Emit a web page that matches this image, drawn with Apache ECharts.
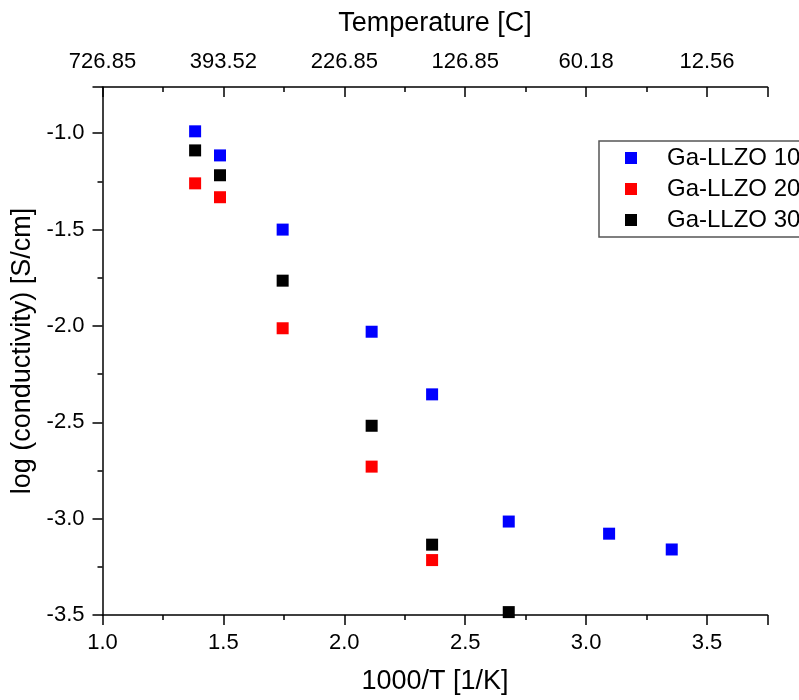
<!DOCTYPE html>
<html>
<head>
<meta charset="utf-8">
<title>ECharts</title>
<script type="text/javascript" src="https://cdn.jsdelivr.net/npm/echarts@6/dist/echarts.min.js"></script>
<style type="text/css">
html, body {
	margin: 0;
	padding: 0;
	background: #ffffff;
}
</style>
</head>
<body>
	<div id="main" style="width: 799px; height: 700px;"></div>
	<script type="text/javascript">
		// 1000/T [1/K] for each measurement temperature
		var invTemp = [1.383, 1.486, 1.745, 2.113, 2.363, 2.680, 3.095, 3.354];
		// log conductivity per sample
		var ga10 = [-0.99, -1.115, -1.50, -2.03, -2.355, -3.015, -3.078, -3.16];
		var ga20 = [-1.26, -1.332, -2.012, -2.73, -3.215];
		var ga30 = [-1.089, -1.218, -1.765, -2.518, -3.135, -3.485];
		var seriesNames = ['Ga-LLZO 10', 'Ga-LLZO 20', 'Ga-LLZO 30'];
		var seriesColors = ['#0000ff', '#ff0000', '#000000'];
		// top axis tick labels (temperature in C)
		var tempLabels = ['726.85', '393.52', '226.85', '126.85', '60.18', '12.56'];

		var font = 'Liberation Sans, Arial, sans-serif';

		function pairs(ys) {
			return ys.map(function(y, i) {
				return [invTemp[i], y];
			});
		}

		var myChart = echarts.init(document.getElementById('main'));

		var axisLine = { show: true, onZero: false, lineStyle: { color: '#000', width: 1.5 } };

		var option = {
			backgroundColor: '#ffffff',
			animation: false,
			grid: {
				left: 102.5,
				top: 87,
				width: 665,
				height: 530
			},
			legend: {
				data: seriesNames,
				orient: 'vertical',
				left: 599,
				top: 141,
				itemWidth: 12,
				itemHeight: 12,
				itemGap: 7,
				icon: 'rect',
				padding: [5, 80, 5, 26],
				borderColor: '#555',
				borderWidth: 1.5,
				textStyle: {
					fontFamily: font,
					fontSize: 24,
					color: '#000',
					padding: [0, 0, 0, 25]
				}
			},
			xAxis: [ {
				type: 'value',
				position: 'bottom',
				min: 1.0,
				max: 3.75,
				interval: 0.5,
				name: '1000/T [1/K]',
				nameLocation: 'middle',
				nameGap: 53,
				nameTextStyle: { fontFamily: font, fontSize: 27, color: '#000' },
				axisLine: axisLine,
				axisTick: { show: true, inside: false, length: 10, lineStyle: { color: '#000', width: 1.5 } },
				minorTick: { show: true, splitNumber: 2, length: 5, lineStyle: { color: '#000', width: 1.5 } },
				splitLine: { show: false },
				axisLabel: {
					fontFamily: font,
					fontSize: 22,
					color: '#000',
					margin: 17,
					showMaxLabel: false,
					formatter: function(v) { return v.toFixed(1); }
				}
			}, {
				type: 'value',
				position: 'top',
				min: 1.0,
				max: 3.75,
				interval: 0.5,
				name: 'Temperature [C]',
				nameLocation: 'middle',
				nameGap: 50,
				nameTextStyle: { fontFamily: font, fontSize: 27, color: '#000' },
				axisLine: axisLine,
				axisTick: { show: true, inside: true, length: 10, lineStyle: { color: '#000', width: 1.5 } },
				minorTick: { show: true, splitNumber: 2, length: 5, lineStyle: { color: '#000', width: 1.5 } },
				splitLine: { show: false },
				axisLabel: {
					fontFamily: font,
					fontSize: 22,
					color: '#000',
					margin: 14,
					showMaxLabel: false,
					formatter: function(v) {
						var idx = Math.round((v - 1.0) / 0.5);
						return tempLabels[idx] || '';
					}
				}
			} ],
			yAxis: {
				type: 'value',
				min: -3.5,
				max: -0.76,
				interval: 0.5,
				name: 'log (conductivity) [S/cm]',
				nameLocation: 'middle',
				nameGap: 62,
				nameTextStyle: { fontFamily: font, fontSize: 27, color: '#000' },
				axisLine: axisLine,
				axisTick: { show: true, inside: false, length: 10, lineStyle: { color: '#000', width: 1.5 } },
				minorTick: { show: true, splitNumber: 2, length: 5, lineStyle: { color: '#000', width: 1.5 } },
				splitLine: { show: false },
				axisLabel: {
					fontFamily: font,
					fontSize: 22,
					color: '#000',
					margin: 18,
					showMaxLabel: false,
					formatter: function(v) { return v.toFixed(1); }
				}
			},
			series: [ {
				name: seriesNames[0],
				type: 'scatter',
				symbol: 'rect',
				symbolSize: 12,
				itemStyle: { color: seriesColors[0], opacity: 1 },
				data: pairs(ga10)
			}, {
				name: seriesNames[1],
				type: 'scatter',
				symbol: 'rect',
				symbolSize: 12,
				itemStyle: { color: seriesColors[1], opacity: 1 },
				data: pairs(ga20)
			}, {
				name: seriesNames[2],
				type: 'scatter',
				symbol: 'rect',
				symbolSize: 12,
				itemStyle: { color: seriesColors[2], opacity: 1 },
				data: pairs(ga30)
			} ]
		};
		myChart.setOption(option);
	</script>
</body>
</html>
